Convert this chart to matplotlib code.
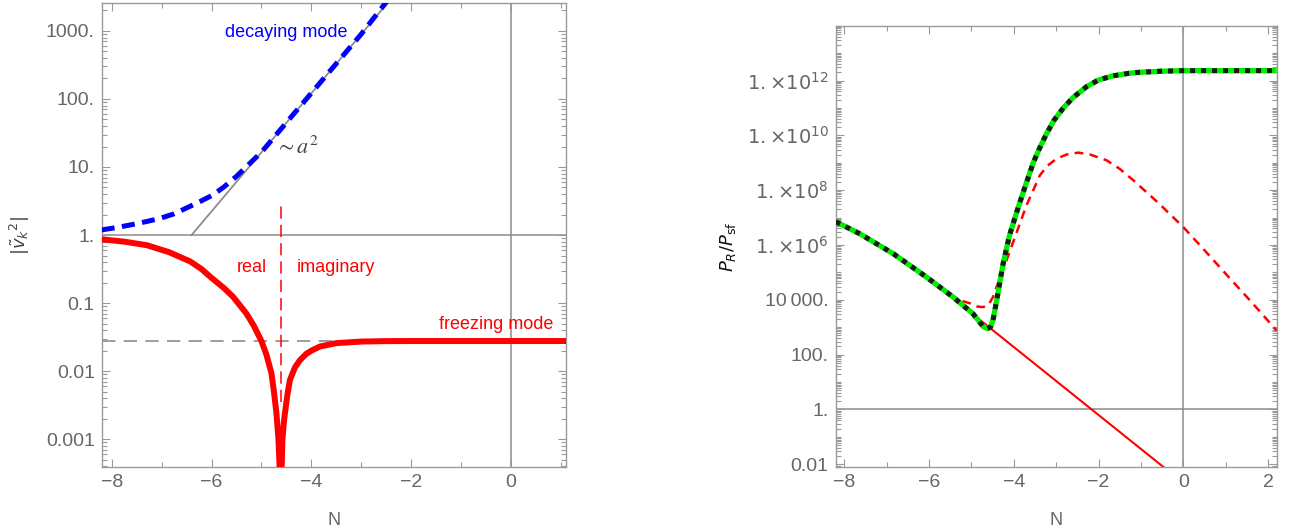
import numpy as np
import matplotlib
matplotlib.use("Agg")
import matplotlib.pyplot as plt
from matplotlib.ticker import FixedLocator, FixedFormatter, MultipleLocator, LogLocator, NullFormatter

plt.rcParams['font.family'] = ['Liberation Sans', 'DejaVu Sans']
plt.rcParams['mathtext.fontset'] = 'dejavusans'

# ---- left panel: |v_k^2| ----
n_decay = [-8.2, -7.9, -7.6, -7.3, -7.03, -6.75, -6.5, -6.25, -5.97, -5.75,
           -5.5, -5.25, -5.0, -4.5, -4.0, -3.5, -3.0, -2.4]
v_decay = [1.19, 1.29, 1.42, 1.58, 1.76, 2.05, 2.5, 3.05, 3.9, 5.1,
           7.3, 11, 16.5, 45, 122, 332, 900, 3300]

n_a2 = [-6.4, -2.0]
v_a2 = [1.0, 6630.0]

n_freeze = [-8.2, -7.75, -7.3, -6.85, -6.43, -6.2, -6.0, -5.75, -5.57, -5.3,
            -5.15, -5.0, -4.9, -4.8, -4.75, -4.7, -4.66, -4.63, -4.615, -4.6,
            -4.58, -4.55, -4.53, -4.48, -4.43, -4.33, -4.23, -4.1, -4.0, -3.83,
            -3.5, -3.0, -2.5, -2.0, 1.1]
v_freeze = [0.865, 0.80, 0.71, 0.56, 0.41, 0.316, 0.235, 0.166, 0.124, 0.070,
            0.046, 0.0276, 0.0174, 0.0093, 0.005, 0.0024, 0.001, 0.0003, 1e-6, 0.0003,
            0.001, 0.0018, 0.0024, 0.0045, 0.0074, 0.0113, 0.0145, 0.018, 0.02, 0.023,
            0.0258, 0.0272, 0.0276, 0.0277, 0.0277]

freeze_level = 0.0277
n_transition = -4.615
transition_span = [0.0035, 2.9]

left_yticks = [0.001, 0.01, 0.1, 1, 10, 100, 1000]
left_ylabels = ['0.001', '0.01', '0.1', '1.', '10.', '100.', '1000.']

# ---- right panel: P_R / P_sf ----
n_full = [-8.2, -7.63, -6.84, -6.06, -5.43, -4.96, -4.85, -4.72, -4.62, -4.55,
          -4.49, -4.4, -4.25, -4.1, -3.93, -3.75, -3.54, -3.4, -3.23, -3.05,
          -2.83, -2.6, -2.28, -2.0, -1.66, -1.3, -1.03, -0.5, 0.0, 2.2]
p_full = [7.08e6, 2.57e6, 4.79e5, 6.76e4, 1.26e4, 3.09e3, 1.9e3, 1.05e3, 8.9e2, 1.0e3,
          1.78e3, 1.0e4, 2.09e5, 2.24e6, 1.58e7, 1.12e8, 1.0e9, 3.16e9, 1.12e10, 3.55e10,
          1.0e11, 2.4e11, 6.0e11, 1.05e12, 1.48e12, 1.82e12, 2.0e12, 2.19e12, 2.29e12, 2.29e12]

n_approx = [-8.2, -7.63, -6.84, -6.06, -5.43, -5.3, -5.2, -5.03, -4.88, -4.73,
            -4.6, -4.49, -4.35, -4.17, -3.97, -3.70, -3.38, -3.2, -2.99, -2.75,
            -2.48, -2.2, -1.81, -1.5, -1.18, -0.6, 0.0, 0.47, 1.0, 1.6, 2.2]
p_approx = [7.08e6, 2.57e6, 4.79e5, 6.76e4, 1.26e4, 1.0e4, 8.9e3, 7.4e3, 5.75e3, 5.4e3,
            6.3e3, 1.26e4, 5.0e4, 2.75e5, 1.95e6, 2.8e7, 3.55e8, 7.9e8, 1.41e9, 2.0e9,
            2.34e9, 2.0e9, 1.23e9, 6.0e8, 2.29e8, 3.55e7, 4.47e6, 7.2e5, 8.9e4, 8.5e3, 7.6e2]

n_nojump = [-8.2, -7.63, -6.84, -6.06, -5.43, -5.0, -0.3]
p_nojump = [7.08e6, 2.57e6, 4.79e5, 6.76e4, 1.26e4, 3.3e3, 4.9e-3]

right_yticks = [1e-2, 1, 1e2, 1e4, 1e6, 1e8, 1e10, 1e12]
right_ylabels = ['0.01', '1.', '100.', '10\u2009000.', r'$1.{\times}10^{6}$',
                 r'$1.{\times}10^{8}$', r'$1.{\times}10^{10}$', r'$1.{\times}10^{12}$']

frame_c = '#9a9a9a'
label_c = '#666666'
axis_c = '#8c8c8c'

fig = plt.figure(figsize=(12.89, 5.29), dpi=100)
axL = fig.add_axes([0.0789, 0.1172, 0.3602, 0.8771])
axR = fig.add_axes([0.6483, 0.1172, 0.3421, 0.8342])


def style(ax):
    for s in ax.spines.values():
        s.set_color(frame_c)
        s.set_linewidth(1.0)
    ax.tick_params(which='both', direction='in', top=True, right=True,
                   color=frame_c, labelcolor=label_c, labelsize=14, width=0.8)
    ax.tick_params(which='major', length=6, pad=5)
    ax.tick_params(which='minor', length=3.5)
    ax.xaxis.set_major_locator(MultipleLocator(2))
    ax.xaxis.set_minor_locator(MultipleLocator(1))
    ax.set_xlabel('N', color=label_c, fontsize=13, labelpad=15)


# left
axL.set_yscale('log')
axL.set_xlim(-8.2, 1.1)
axL.set_ylim(3.9e-4, 2570)
axL.axhline(1, color=axis_c, lw=1.1, zorder=1)
axL.axvline(0, color=axis_c, lw=1.1, zorder=1)
axL.axhline(freeze_level, color=axis_c, lw=1.2, ls=(0, (8, 5)), zorder=1)
axL.plot(n_a2, v_a2, color=axis_c, lw=1.3, zorder=2)
axL.plot(n_freeze, v_freeze, color='red', lw=4.3, zorder=3)
axL.plot(n_decay, v_decay, color='#0000ff', lw=3.6, ls=(0, (2.6, 1.5)), zorder=4)
axL.plot([n_transition, n_transition], transition_span, color='red', lw=1.1,
         ls=(0, (8, 4)), zorder=5)
axL.text(-4.5, 960, 'decaying mode', color='#0000ff', fontsize=13, ha='center', va='center')
axL.text(-4.3, 19, r'$\sim a^2$', color='#444444', fontsize=16, ha='center', va='center',
         math_fontfamily='stix')
axL.text(-5.2, 0.33, 'real', color='red', fontsize=13, ha='center', va='center')
axL.text(-3.5, 0.33, 'imaginary', color='red', fontsize=13, ha='center', va='center')
axL.text(-0.3, 0.048, 'freezing mode', color='red', fontsize=13, ha='center', va='center')
style(axL)
axL.yaxis.set_major_locator(FixedLocator(left_yticks))
axL.yaxis.set_major_formatter(FixedFormatter(left_ylabels))
axL.yaxis.set_minor_locator(LogLocator(base=10, subs=np.arange(2, 10), numticks=50))
axL.yaxis.set_minor_formatter(NullFormatter())
axL.set_ylabel(r'$|\tilde{v}_k{}^2|$', color='#444444', fontsize=13, labelpad=10)

# right
axR.set_yscale('log')
axR.set_xlim(-8.2, 2.2)
axR.set_ylim(10 ** -2.1, 1e14)
axR.axhline(1, color=axis_c, lw=1.1, zorder=1)
axR.axvline(0, color=axis_c, lw=1.1, zorder=1)
axR.plot(n_nojump, p_nojump, color='red', lw=1.5, zorder=2)
axR.plot(n_approx, p_approx, color='red', lw=1.8, ls=(0, (3.5, 2.5)), zorder=3)
axR.plot(n_full, p_full, color='#00ee00', lw=3.8, zorder=4, solid_capstyle='butt')
axR.plot(n_full, p_full, color='#1a1a1a', lw=3.6, ls=(0, (1.0, 1.2)), zorder=5)
style(axR)
axR.yaxis.set_major_locator(FixedLocator(right_yticks))
axR.yaxis.set_major_formatter(FixedFormatter(right_ylabels))
axR.yaxis.set_minor_locator(LogLocator(base=10, subs=np.arange(1, 10), numticks=100))
axR.yaxis.set_minor_formatter(NullFormatter())
axR.set_ylabel(r'$P_R/P_{\mathrm{sf}}$', color='#111111', fontsize=13, labelpad=6)

fig.savefig('out.png', dpi=100)
